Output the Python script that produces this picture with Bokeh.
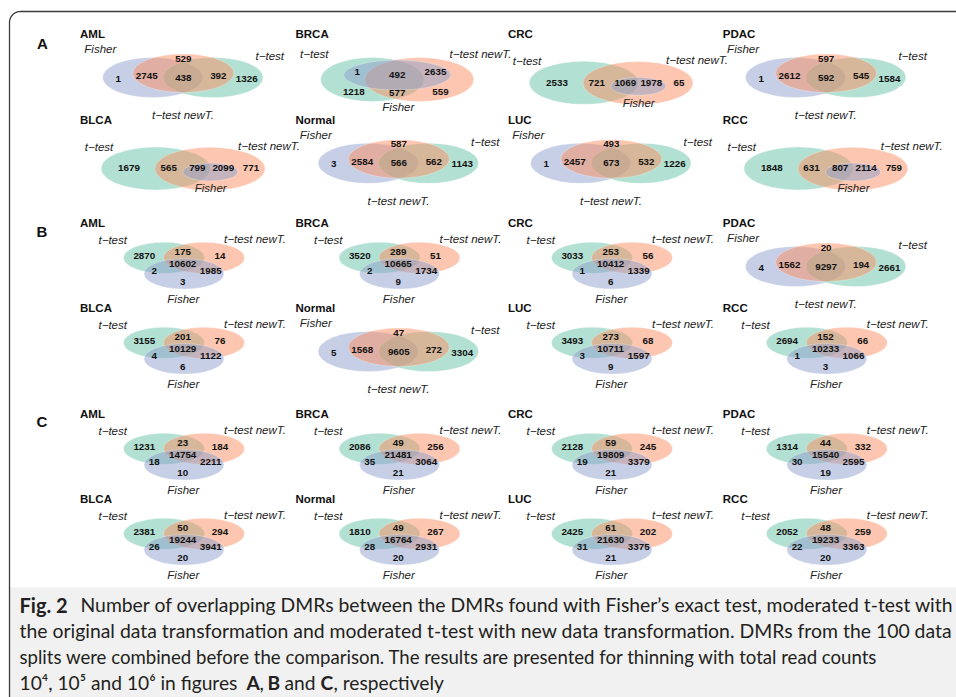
import numpy as np
from bokeh.plotting import figure
from bokeh.models import Range1d
from bokeh.core.properties import value
from bokeh.embed import file_html
from bokeh.resources import INLINE

W, H = 956, 697

# Venn regions: T = moderated t-test, N = t-test with new transformation, F = Fisher
region_keys = ["T", "N", "F", "TN", "TF", "NF", "TNF"]
set_labels = {"T": "t\u2212test", "N": "t\u2212test newT.", "F": "Fisher"}
set_colors = {"T": "#66c2a5", "N": "#fc8d62", "F": "#8da0cb"}

cancers = ["AML", "BRCA", "CRC", "PDAC", "BLCA", "Normal", "LUC", "RCC"]

# Overlap counts in region_keys order (None: region not shown)
counts_A = {
    "AML":    [1326, 529, 1, 392, None, 2745, 438],
    "BRCA":   [1218, 559, None, 577, 1, 2635, 492],
    "CRC":    [2533, 65, None, 721, None, 1978, 1069],
    "PDAC":   [1584, 597, 1, 545, None, 2612, 592],
    "BLCA":   [1679, 771, None, 565, None, 2099, 799],
    "Normal": [1143, 587, 3, 562, None, 2584, 566],
    "LUC":    [1226, 493, 1, 532, None, 2457, 673],
    "RCC":    [1848, 759, None, 631, None, 2114, 807],
}
counts_B = {
    "AML":    [2870, 14, 3, 175, 2, 1985, 10602],
    "BRCA":   [3520, 51, 9, 289, 2, 1734, 10665],
    "CRC":    [3033, 56, 6, 253, 1, 1339, 10412],
    "PDAC":   [2661, 20, 4, 194, None, 1562, 9297],
    "BLCA":   [3155, 76, 6, 201, 4, 1122, 10129],
    "Normal": [3304, 47, 5, 272, None, 1568, 9605],
    "LUC":    [3493, 68, 9, 273, 3, 1597, 10711],
    "RCC":    [2694, 66, 3, 152, 1, 1066, 10233],
}
counts_C = {
    "AML":    [1231, 184, 10, 23, 18, 2211, 14754],
    "BRCA":   [2086, 256, 21, 49, 35, 3064, 21481],
    "CRC":    [2128, 245, 21, 59, 19, 3379, 19809],
    "PDAC":   [1314, 332, 19, 44, 30, 2595, 15540],
    "BLCA":   [2381, 294, 20, 50, 26, 3941, 19244],
    "Normal": [1810, 267, 20, 49, 28, 2931, 16764],
    "LUC":    [2425, 202, 21, 61, 31, 3375, 21630],
    "RCC":    [2052, 259, 20, 48, 22, 3363, 19233],
}

# Diagram arrangement used for each cancer type
shapes_A = ["chain", "middle", "inner", "chain", "inner", "chain", "chain", "inner"]
shapes_B = ["triad", "triad", "triad", "chain", "triad", "chain", "triad", "triad"]
shapes_C = ["triad"] * 8

# Geometry of each arrangement, relative to the diagram title (left, middle)
templates = {
    "chain": {
        "order": ["F", "T", "N"],
        "ell": {"F": (72.7, 43.7, 100, 40), "T": (133.0, 43.7, 100, 40),
                "N": (103.3, 39.5, 101, 38.5)},
        "lab": {"F": (20.3, 15.3), "T": (189.8, 22.0), "N": (103.0, 81.0)},
        "num": {"F": (38.3, 44.7), "NF": (66.7, 42.0), "N": (103.3, 24.7),
                "TNF": (103.3, 43.7), "TN": (138.3, 42.0), "T": (166.7, 44.7)},
    },
    "inner": {
        "order": ["T", "N", "F"],
        "ell": {"T": (75.7, 49.0, 109, 43), "N": (130.0, 49.3, 110, 43),
                "F": (130.3, 52.5, 55, 18)},
        "lab": {"T": (19.0, 27.0), "N": (189.0, 26.3), "F": (130.7, 68.7)},
        "num": {"T": (49.0, 48.7), "TN": (88.7, 48.7), "TNF": (117.3, 48.7),
                "NF": (143.3, 48.7), "N": (171.0, 48.7)},
    },
    "middle": {
        "order": ["T", "N", "F"],
        "ell": {"T": (76.7, 45.7, 103, 44), "N": (123.8, 45.7, 109, 44),
                "F": (101.7, 41.3, 107, 30)},
        "lab": {"T": (18.8, 20.0), "N": (185.0, 20.0), "F": (102.8, 73.4)},
        "num": {"TF": (61.7, 38.4), "TNF": (101.7, 40.7), "NF": (140.0, 38.4),
                "T": (58.3, 58.4), "TN": (101.7, 59.4), "N": (145.0, 58.4)},
    },
    "triad": {
        "order": ["T", "N", "F"],
        "ell": {"T": (84.0, 35.0, 81, 31), "N": (124.0, 35.0, 81, 31),
                "F": (104.0, 51.0, 80, 30.5)},
        "lab": {"T": (32.7, 17.0), "N": (175.0, 16.5), "F": (103.3, 76.2)},
        "num": {"T": (64.3, 33.0), "TN": (102.7, 29.0), "N": (140.0, 33.0),
                "TNF": (102.7, 41.3), "TF": (74.3, 48.0), "NF": (130.7, 48.0),
                "F": (102.7, 59.0)},
    },
}

panels = [("A", counts_A, shapes_A), ("B", counts_B, shapes_B), ("C", counts_C, shapes_C)]
col_x = [79.5, 295.0, 507.5, 722.3]
row_y = {"A": (33.3, 119.0), "B": (222.3, 307.3), "C": (413.3, 498.3)}
letter_pos = {"A": (42.0, 42.5), "B": (41.3, 231.0), "C": (41.3, 420.5)}

p = figure(width=W, height=H, x_range=Range1d(0, W), y_range=Range1d(H, 0),
           x_axis_location=None, y_axis_location=None, toolbar_location=None,
           output_backend="svg", min_border=0)
p.grid.grid_line_color = None
p.outline_line_color = None
p.background_fill_color = "white"
p.border_fill_color = "white"

# caption panel background
p.quad(left=9, right=W, top=587, bottom=H, fill_color="#f1f1f1", line_color=None)

# frame with rounded top-left corner
theta = np.linspace(np.pi, 1.5 * np.pi, 24)
fx = np.concatenate([[9.0], 20.0 + 11.0 * np.cos(theta), [W]])
fy = np.concatenate([[H], 22.0 + 11.0 * np.sin(theta), [11.0]])
p.line(fx, fy, line_color="#3c3c3c", line_width=1.3)

ell = [dict(x=[], y=[], w=[], h=[], c=[]) for _ in range(3)]
nums = dict(x=[], y=[], t=[])
labs = dict(x=[], y=[], t=[])
titles = dict(x=[], y=[], t=[])

for letter, counts, shapes in panels:
    for i, name in enumerate(cancers):
        x0 = col_x[i % 4]
        y0 = row_y[letter][i // 4]
        tpl = templates[shapes[i]]
        titles["x"].append(x0)
        titles["y"].append(y0)
        titles["t"].append(name)
        for k, s in enumerate(tpl["order"]):
            cx, cy, w, h = tpl["ell"][s]
            ell[k]["x"].append(x0 + cx)
            ell[k]["y"].append(y0 + cy)
            ell[k]["w"].append(w)
            ell[k]["h"].append(h)
            ell[k]["c"].append(set_colors[s])
        for s, (lx, ly) in tpl["lab"].items():
            labs["x"].append(x0 + lx)
            labs["y"].append(y0 + ly)
            labs["t"].append(set_labels[s])
        for key, n in zip(region_keys, counts[name]):
            if n is None:
                continue
            nx, ny = tpl["num"][key]
            nums["x"].append(x0 + nx)
            nums["y"].append(y0 + ny)
            nums["t"].append(str(n))

for k in range(3):
    p.ellipse(x="x", y="y", width="w", height="h", fill_color="c", source=ell[k],
              fill_alpha=0.5, line_color="white", line_alpha=0.35, line_width=0.8)

p.text(x="x", y="y", text="t", source=nums, text_font=value("Liberation Sans"),
       text_font_style="bold", text_font_size="9.8px", text_align="center",
       text_baseline="middle", text_color="#111111")
p.text(x="x", y="y", text="t", source=labs, text_font=value("Liberation Sans"),
       text_font_style="italic", text_font_size="11.5px", text_align="center",
       text_baseline="middle", text_color="#222222")
p.text(x="x", y="y", text="t", source=titles, text_font=value("Liberation Sans"),
       text_font_style="bold", text_font_size="11.5px", text_align="left",
       text_baseline="middle", text_color="#111111")
p.text(x=[v[0] for v in letter_pos.values()], y=[v[1] for v in letter_pos.values()],
       text=list(letter_pos.keys()), text_font=value("Liberation Sans"),
       text_font_style="bold", text_font_size="15px", text_align="center",
       text_baseline="middle", text_color="#111111")

# caption
cap_font = value("Lato")
cap_color = "#231f20"
p.text(x=[19], y=[604], text=["Fig. 2"], text_font=cap_font, text_font_style="bold",
       text_font_size="20px", text_baseline="middle", text_color=cap_color)
cap_lines = [
    "Number of overlapping DMRs between the DMRs found with Fisher\u2019s exact test, moderated t-test with",
    "the original data transformation and moderated t-test with new data transformation. DMRs from the 100 data",
    "splits were combined before the comparison. The results are presented for thinning with total read counts",
]
cap_sizes = ["19.35px", "19.4px", "18.6px"]
p.text(x=[80, 19, 19], y=[604, 630, 656], text=cap_lines, text_font=cap_font,
       text_font_size=cap_sizes, text_baseline="middle", text_color=cap_color)
runs = ["10\u2074, 10\u2075 and 10\u2076 in figures", "A", ",", "B", "and", "C", ", respectively"]
run_x = [19, 246, 259, 267, 284, 320, 333]
run_bold = ["normal", "bold", "normal", "bold", "normal", "bold", "normal"]
p.text(x=run_x, y=[682] * len(runs), text=runs, text_font=cap_font,
       text_font_style=run_bold, text_font_size="19.2px", text_baseline="middle",
       text_color=cap_color)

open("out.html", "w").write(file_html(p, INLINE))
